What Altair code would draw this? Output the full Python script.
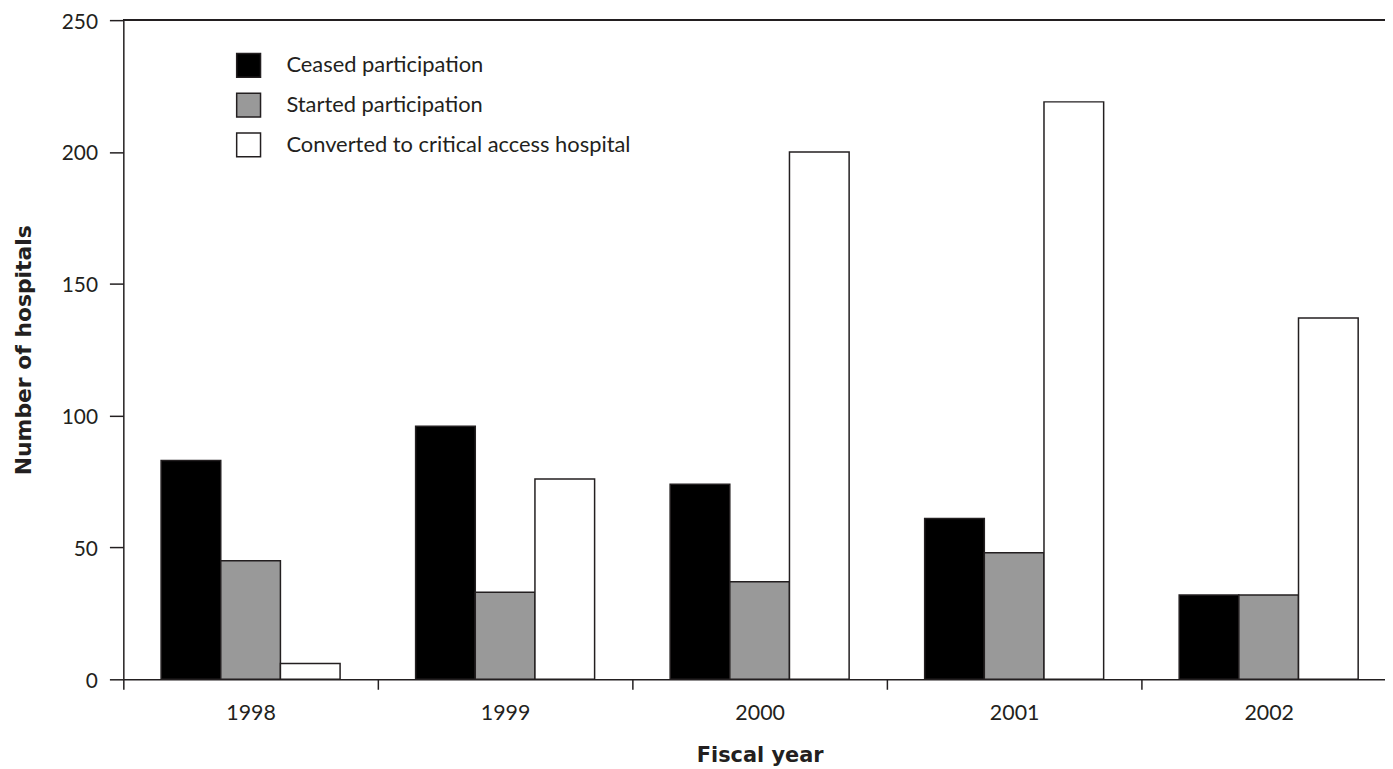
import altair as alt
import pandas as pd

years = ["1998", "1999", "2000", "2001", "2002"]
series = ["Ceased participation", "Started participation", "Converted to critical access hospital"]
ceased = [83, 96, 74, 61, 32]
started = [45, 33, 37, 48, 32]
converted = [6, 76, 200, 219, 137]
y_ticks = [0, 50, 100, 150, 200, 250]
colors = ["#000000", "#999999", "#ffffff"]

rows = []
for i, yr in enumerate(years):
    for s, vals in zip(series, [ceased, started, converted]):
        rows.append({"year": yr, "series": s, "value": vals[i]})
df = pd.DataFrame(rows)

ink = "#231f20"
label_font = "Lato"
title_font = "DejaVu Sans"

bars = alt.Chart(df).mark_bar(stroke=ink, strokeWidth=1.5).encode(
    x=alt.X(
        "year:N", sort=years,
        scale=alt.Scale(range=[0, 1280], paddingInner=0, paddingOuter=0),
        axis=alt.Axis(
            title="Fiscal year", labelAngle=0, tickBand="extent", tickSize=10,
            tickWidth=1.5, tickColor=ink, domainColor=ink, domainWidth=1.5,
            labelFont=label_font, labelFontSize=21.5, labelColor=ink, labelPadding=13,
            titleFont=title_font, titleFontSize=21, titleFontWeight="bold",
            titleColor=ink, titlePadding=21,
        ),
    ),
    xOffset=alt.XOffset(
        "series:N", sort=series,
        scale=alt.Scale(domain=series, paddingOuter=0.633, paddingInner=0),
    ),
    y=alt.Y(
        "value:Q",
        scale=alt.Scale(domain=[0, 250], nice=False),
        axis=alt.Axis(
            title="Number of hospitals", values=y_ticks, tickSize=14, tickWidth=1.5,
            tickColor=ink, domainColor=ink, domainWidth=1.5,
            labelFont=label_font, labelFontSize=21, labelColor=ink, labelPadding=12,
            labelOffset=2,
            titleFont=title_font, titleFontSize=22, titleFontWeight="bold",
            titleColor=ink, titlePadding=26,
        ),
    ),
    color=alt.Color(
        "series:N", sort=series,
        scale=alt.Scale(domain=series, range=colors),
        legend=alt.Legend(
            title=None, orient="none", legendX=113, legendY=32.5,
            symbolType="square", symbolSize=576, symbolStrokeColor=ink,
            symbolStrokeWidth=1.5, labelFont=label_font, labelFontSize=22,
            labelColor=ink, labelOffset=25, rowPadding=10, padding=0,
            labelLimit=600,
        ),
    ),
)

top_line = alt.Chart(df).mark_rule(color=ink, strokeWidth=1.5).encode(
    x=alt.value(0), x2=alt.value(1280), y=alt.value(0)
)

chart = alt.layer(bars, top_line).properties(
    width=1269, height=663,
    autosize=alt.AutoSizeParams(type="none"),
    padding={"left": 116, "top": 10, "right": 0, "bottom": 88},
).configure_view(stroke=None).configure_axis(grid=False)

chart.save("out.html", embed_options={"renderer": "svg", "actions": False})
